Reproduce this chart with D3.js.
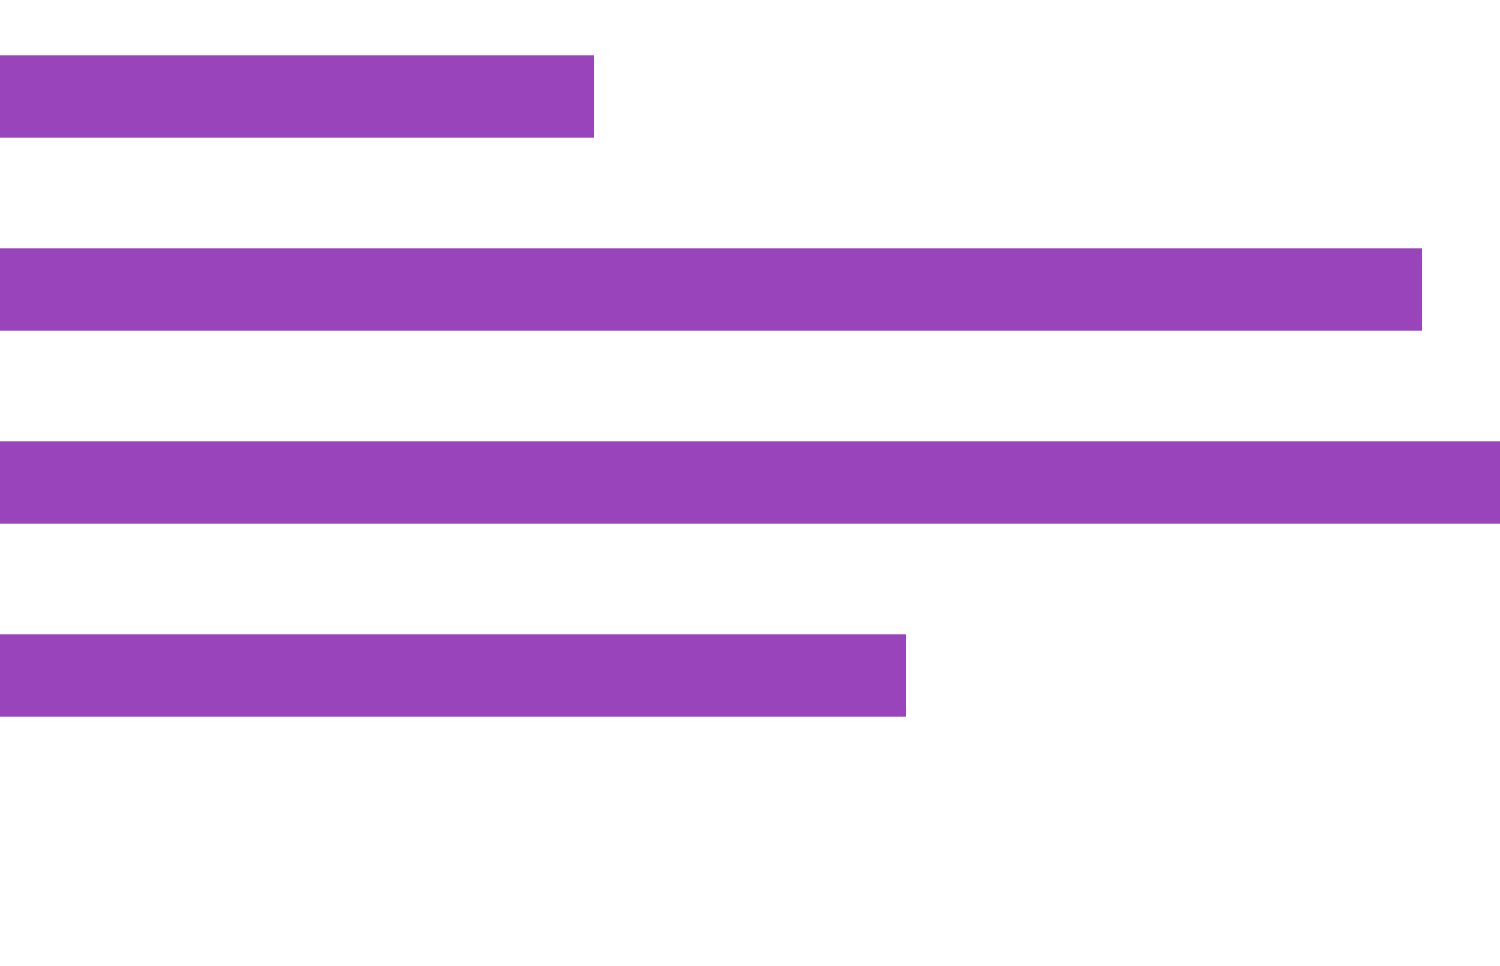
<!DOCTYPE html>
<html>
<head>
<meta charset="utf-8">
<script src="https://cdn.jsdelivr.net/npm/d3@7"></script>
<style>
  html, body { margin: 0; padding: 0; background: #fff; overflow: hidden; }
</style>
</head>
<body>
<div id="chart"></div>
<script>
// chart size
var width = 1500;
var height = 966;

// data
var categories = ["A", "B", "C", "D"];
var values = [39.6, 94.8, 100, 60.4];

var svg = d3.select("#chart")
  .append("svg")
  .attr("width", width)
  .attr("height", height);

var x = d3.scaleLinear()
  .domain([0, d3.max(values)])
  .range([0, width]);

var y = d3.scaleBand()
  .domain(categories)
  .range([0, 772])
  .paddingInner(0.573)
  .paddingOuter(0.2865);

svg.append("g")
  .selectAll("rect")
  .data(values)
  .enter().append("rect")
  .attr("x", 0)
  .attr("y", function(d, i) { return y(categories[i]); })
  .attr("width", function(d) { return x(d); })
  .attr("height", y.bandwidth())
  .attr("fill", "#9944bb");
</script>
</body>
</html>
